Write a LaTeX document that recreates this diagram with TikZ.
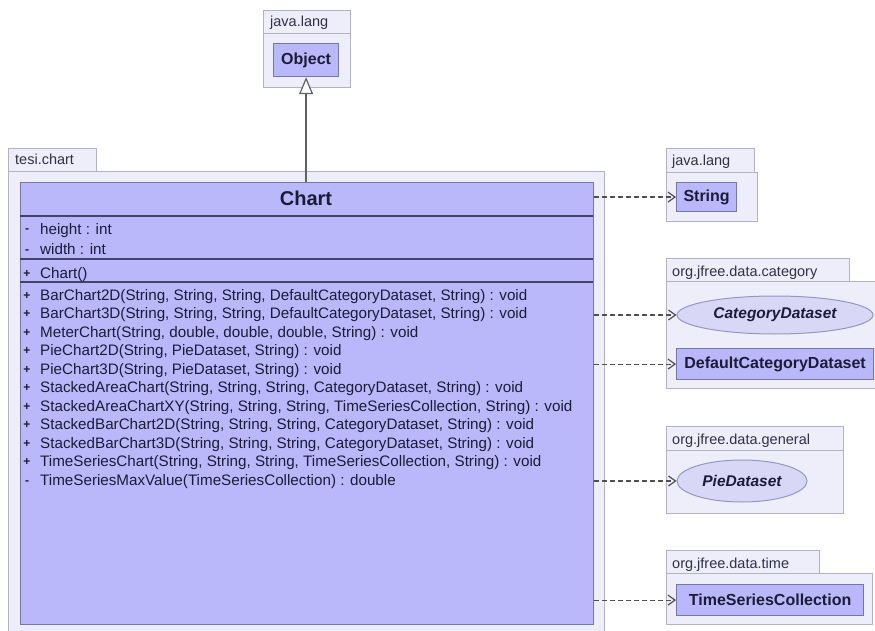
\documentclass[tikz,border=0pt]{standalone}
\usepackage{fontspec}
\setmainfont{Liberation Sans}
\usetikzlibrary{arrows.meta,shapes.geometric}

\definecolor{pkgfill}{RGB}{238,238,250}
\definecolor{pkgline}{RGB}{178,178,194}
\definecolor{clsfill}{RGB}{184,184,250}
\definecolor{clsline}{RGB}{118,118,168}
\definecolor{sepline}{RGB}{66,66,108}
\definecolor{txt}{RGB}{28,28,56}
\definecolor{ifill}{RGB}{216,216,246}
\definecolor{iline}{RGB}{150,150,192}
\definecolor{conn}{RGB}{80,80,80}

\tikzset{
  x=1pt, y=-1pt,
  box/.style={rectangle, inner sep=0pt, anchor=north west},
  pkgbox/.style={box, draw=pkgline, fill=pkgfill, line width=1pt},
  clsbox/.style={box, draw=clsline, fill=clsfill, line width=1.2pt},
  ifbox/.style={ellipse, inner sep=0pt, draw=iline, fill=ifill, line width=1pt},
  pkglabel/.style={anchor=base west, inner sep=0pt, text=txt!80!gray,
    font=\fontsize{14.5}{17}\selectfont},
  clsname/.style={inner sep=0pt, text=txt, font=\fontsize{16}{19}\selectfont\bfseries},
  ifname/.style={inner sep=0pt, text=txt, font=\fontsize{15.5}{19}\selectfont\bfseries\itshape},
  member/.style={anchor=base west, inner sep=0pt, text=txt,
    font=\fontsize{15.2}{18}\selectfont},
  vis/.style={anchor=base, inner sep=0pt, text=txt,
    font=\fontsize{12}{14}\selectfont\bfseries},
  sep/.style={draw=sepline, line width=1.6pt},
  dep/.style={draw=conn, line width=1.2pt, dash pattern=on 5pt off 3pt,
    -{Straight Barb[length=7pt,width=10pt,line width=1.2pt]}},
  inh/.style={draw=conn!90!white, line width=1.5pt,
    -{Triangle[open,length=17pt,width=14pt,line width=1.2pt,fill=white]}}
}

\begin{document}
\begin{tikzpicture}
\useasboundingbox (0,0) rectangle (875,631);
\fill[white] (0,0) rectangle (875,631);

% ---- package java.lang (Object)
\node[pkgbox, minimum width=87pt, minimum height=23pt] (tabobj) at (263,10) {};
\node[pkgbox, minimum width=87pt, minimum height=54pt] (pkgobj) at (263,33) {};
\node[pkglabel] (lblobj) at (270,27) {java.lang};
\node[clsbox, minimum width=65pt, minimum height=33pt] (object) at (273,43) {};
\node[clsname] (objname) at (object.center) {Object};

% ---- package tesi.chart
\node[pkgbox, minimum width=88pt, minimum height=23pt] (tabchart) at (8,148) {};
\node[pkgbox, minimum width=596pt, minimum height=470pt] (pkgchart) at (8,171) {};
\node[pkglabel] (lblchart) at (15,165) {tesi.chart};

% ---- class Chart
\node[clsbox, minimum width=573pt, minimum height=442pt] (chart) at (20,182) {};
\node[clsname, font=\fontsize{20}{24}\selectfont\bfseries, anchor=base] (chartname) at (306,206) {Chart};
\draw[sep] (20,216) -- (593,216);
\draw[sep] (20,259) -- (593,259);
\draw[sep] (20,282) -- (593,282);

% attributes
\node[vis] (v1) at (27,233) {-};
\node[member] (a1) at (40,234) {height : int};
\node[vis] (v2) at (27,253) {-};
\node[member] (a2) at (40,254) {width : int};
% constructor
\node[vis] (v3) at (27,277) {+};
\node[member] (c1) at (40,278) {Chart()};
% operations
\foreach \i/\m/\s in {
  0/{BarChart2D(String, String, String, DefaultCategoryDataset, String) : void}/+,
  1/{BarChart3D(String, String, String, DefaultCategoryDataset, String) : void}/+,
  2/{MeterChart(String, double, double, double, String) : void}/+,
  3/{PieChart2D(String, PieDataset, String) : void}/+,
  4/{PieChart3D(String, PieDataset, String) : void}/+,
  5/{StackedAreaChart(String, String, String, CategoryDataset, String) : void}/+,
  6/{StackedAreaChartXY(String, String, String, TimeSeriesCollection, String) : void}/+,
  7/{StackedBarChart2D(String, String, String, CategoryDataset, String) : void}/+,
  8/{StackedBarChart3D(String, String, String, CategoryDataset, String) : void}/+,
  9/{TimeSeriesChart(String, String, String, TimeSeriesCollection, String) : void}/+,
  10/{TimeSeriesMaxValue(TimeSeriesCollection) : double}/-}
{
  \node[vis] (opv\i) at (27,{299+18.5*\i}) {\s};
  \node[member] (op\i) at (40,{300+18.5*\i}) {\m};
}

% ---- package java.lang (String)
\node[pkgbox, minimum width=88pt, minimum height=24pt] (tabstr) at (666,148) {};
\node[pkgbox, minimum width=91pt, minimum height=49pt] (pkgstr) at (666,172) {};
\node[pkglabel] (lblstr) at (672,166) {java.lang};
\node[clsbox, minimum width=60pt, minimum height=29pt] (string) at (676,182) {};
\node[clsname] (strname) at (string.center) {String};

% ---- package org.jfree.data.category
\node[pkgbox, minimum width=183pt, minimum height=23pt] (tabcat) at (666,258) {};
\node[pkgbox, minimum width=212pt, minimum height=107pt] (pkgcat) at (666,281) {};
\node[pkglabel] (lblcat) at (672,276) {org.jfree.data.category};
\node[ifbox, minimum width=196pt, minimum height=38pt] (catds) at (775,315) {};
\node[ifname] (catname) at (catds.center) {CategoryDataset};
\node[clsbox, minimum width=197pt, minimum height=31pt] (defcat) at (676,348) {};
\node[clsname] (defname) at (defcat.center) {DefaultCategoryDataset};

% ---- package org.jfree.data.general
\node[pkgbox, minimum width=177pt, minimum height=24pt] (tabgen) at (666,426) {};
\node[pkgbox, minimum width=177pt, minimum height=63pt] (pkggen) at (666,450) {};
\node[pkglabel] (lblgen) at (672,444) {org.jfree.data.general};
\node[ifbox, minimum width=130pt, minimum height=42pt] (pieds) at (742,481) {};
\node[ifname] (piename) at (pieds.center) {PieDataset};

% ---- package org.jfree.data.time
\node[pkgbox, minimum width=153pt, minimum height=23pt] (tabtime) at (666,550) {};
\node[pkgbox, minimum width=206pt, minimum height=51pt] (pkgtime) at (666,573) {};
\node[pkglabel] (lbltime) at (672,568) {org.jfree.data.time};
\node[clsbox, minimum width=187pt, minimum height=31pt] (tscoll) at (676,584) {};
\node[clsname] (tsname) at (tscoll.center) {TimeSeriesCollection};

% ---- generalization
\draw[inh] (object.south |- chart.north) -- (object.south);

% ---- dependencies
\draw[dep] (chart.east |- string.west) -- (string.west);
\draw[dep] (chart.east |- catds.west) -- (catds.west);
\draw[dep] (chart.east |- defcat.west) -- (defcat.west);
\draw[dep] (chart.east |- pieds.west) -- (pieds.west);
\draw[dep] (chart.east |- tscoll.west) -- (tscoll.west);
\end{tikzpicture}
\end{document}
